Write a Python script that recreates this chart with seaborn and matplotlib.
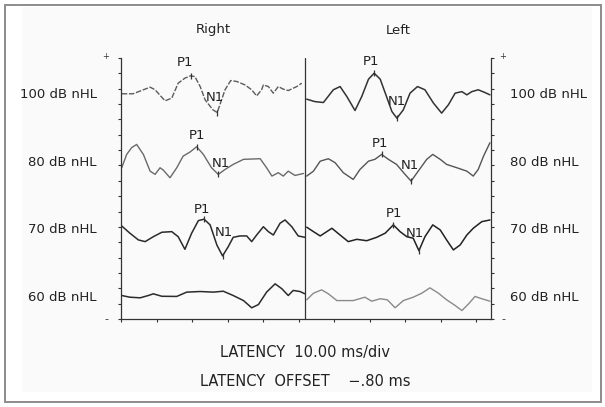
import numpy as np
import pandas as pd
import matplotlib
matplotlib.use('Agg')
import matplotlib.pyplot as plt
import matplotlib.transforms as mtransforms
from matplotlib.patches import Rectangle
import seaborn as sns

sns.set_theme(style='white')
plt.rcParams['font.family'] = ['DejaVu Sans']

# ==========================================
# data (latency in ms on the display axis, amplitude in divisions)
# ==========================================
levels = ['100 dB nHL', '80 dB nHL', '70 dB nHL', '60 dB nHL']
baselines = [14.6, 10.2, 5.8, 1.4]

# right ear (left half of the display)
lat_r100 = [0.2, 3.4, 8.2, 9.6, 12.4, 14.3, 16.1, 18.0, 19.6, 20.8, 22.3, 23.7, 25.9, 27.1, 29.3, 30.9,
            32.6, 34.9, 36.8, 38.2, 39.6, 40.1, 41.5, 42.9, 44.3, 45.7, 47.1, 49.5, 50.9]
amp_r100 = [0.07, 0.07, 0.50, 0.33, -0.39, -0.21, 0.76, 1.09, 1.24, 1.19, 0.54, -0.33, -0.98, -1.15, 0.33, 0.93,
            0.87, 0.65, 0.33, -0.07, 0.33, 0.65, 0.54, 0.11, 0.54, 0.37, 0.28, 0.54, 0.76]

lat_r80 = [0.2, 1.6, 3.0, 4.4, 6.3, 8.2, 9.6, 11.0, 11.9, 13.8, 15.7, 17.5, 19.4, 21.3, 23.2, 25.5, 27.4,
           29.3, 31.6, 34.5, 39.2, 41.0, 42.5, 44.3, 45.7, 47.1, 49.0, 51.4]
amp_r80 = [-0.35, 0.52, 0.96, 1.17, 0.52, -0.57, -0.78, -0.35, -0.50, -1.00, -0.35, 0.41, 0.67, 1.02, 0.52, -0.35, -0.78,
           -0.46, -0.13, 0.20, 0.24, -0.35, -0.89, -0.67, -0.89, -0.57, -0.85, -0.72]

lat_r70 = [0.2, 2.5, 4.9, 6.8, 9.1, 11.5, 14.3, 16.1, 18.0, 19.9, 21.8, 23.4, 25.1, 27.0, 28.6, 30.2, 31.6,
           33.5, 35.4, 36.8, 38.2, 40.1, 41.5, 42.9, 44.8, 46.2, 48.1, 49.9, 51.8]
amp_r70 = [0.26, -0.21, -0.65, -0.76, -0.44, -0.15, -0.11, -0.44, -1.26, -0.21, 0.61, 0.70, 0.33, -0.98, -1.69, -1.09, -0.48,
           -0.39, -0.39, -0.76, -0.33, 0.21, -0.11, -0.33, 0.44, 0.65, 0.21, -0.39, -0.48]

lat_r60 = [0.2, 2.5, 5.4, 7.7, 9.1, 11.5, 15.7, 18.5, 22.3, 26.0, 28.8, 31.6, 34.5, 36.8, 38.7, 41.0, 43.4,
           45.3, 47.1, 48.5, 50.4, 51.8]
amp_r60 = [0.13, 0.02, -0.02, 0.13, 0.24, 0.08, 0.07, 0.35, 0.39, 0.35, 0.41, 0.13, -0.20, -0.67, -0.46, 0.35, 0.89,
           0.57, 0.13, 0.46, 0.39, 0.24]

# left ear (right half of the display)
lat_l100 = [52.3, 54.6, 57.0, 59.8, 61.7, 63.6, 65.9, 67.8, 69.7, 71.3, 73.0, 74.6, 76.3, 77.7, 79.5, 81.4,
            83.5, 85.6, 88.0, 90.3, 92.2, 94.1, 96.0, 97.4, 98.8, 100.6, 102.5, 103.9]
amp_l100 = [-0.28, -0.44, -0.50, 0.33, 0.54, -0.11, -1.02, -0.11, 1.02, 1.41, 1.02, 0.00, -1.09, -1.52, -0.98, 0.11,
            0.54, 0.33, -0.54, -1.19, -0.65, 0.11, 0.21, 0.00, 0.21, 0.33, 0.15, 0.00]

lat_l80 = [52.3, 54.2, 56.1, 58.4, 60.3, 62.6, 65.4, 67.3, 69.7, 71.5, 73.4, 75.3, 77.6, 80.0, 81.7, 83.7,
           86.1, 87.8, 89.9, 91.7, 94.6, 97.4, 99.2, 100.6, 102.1, 103.9]
amp_l80 = [-0.89, -0.57, 0.08, 0.24, -0.02, -0.67, -1.11, -0.46, 0.08, 0.20, 0.52, 0.20, -0.13, -0.78, -1.22, -0.57,
           0.20, 0.52, 0.20, -0.13, -0.35, -0.57, -0.89, -0.46, 0.41, 1.28]

lat_l70 = [52.3, 54.2, 56.1, 59.4, 61.7, 64.0, 66.4, 69.2, 72.0, 74.4, 76.7, 78.6, 80.5, 82.3, 83.9, 85.6,
           87.8, 89.9, 91.7, 93.6, 95.5, 97.4, 99.2, 101.6, 103.9]
amp_l70 = [0.18, -0.11, -0.39, 0.11, -0.33, -0.76, -0.61, -0.70, -0.48, -0.21, 0.33, -0.11, -0.44, -0.54, -1.35, -0.44,
           0.33, 0.00, -0.65, -1.30, -0.98, -0.33, 0.11, 0.54, 0.65]

lat_l60 = [52.3, 54.2, 56.5, 58.4, 60.8, 65.4, 68.7, 70.6, 73.0, 75.0, 77.2, 79.5, 82.3, 84.7, 87.0, 89.4,
           91.7, 94.1, 96.0, 97.9, 99.7, 101.6, 103.9]
amp_l60 = [-0.15, 0.28, 0.50, 0.24, -0.20, -0.20, 0.02, -0.24, -0.08, -0.15, -0.67, -0.20, 0.02, 0.28, 0.63, 0.28,
           -0.15, -0.52, -0.85, -0.41, 0.07, -0.08, -0.24]

# P1 / N1 latencies marked on the 100, 80 and 70 dB traces
p1_right = [19.6, 21.3, 23.4]
n1_right = [27.1, 27.4, 28.6]
p1_left = [71.3, 73.4, 76.7]
n1_left = [77.7, 81.7, 83.9]

# ==========================================
# figure
# ==========================================
fig = plt.figure(figsize=(6.05, 4.07), dpi=100)
fig.patches.append(Rectangle((22 / 605, 15 / 407), 570 / 605, 385 / 407, transform=fig.transFigure,
                             facecolor='#fafafa', edgecolor='none', zorder=-2))
fig.patches.append(Rectangle((4.5 / 605, 5.5 / 407), 596 / 605, 397 / 407, transform=fig.transFigure,
                             facecolor='none', edgecolor='#8c8c8c', lw=1.4, zorder=-1))

ax = fig.add_axes([121 / 605, 1 - 319 / 407, 370 / 605, 261 / 407])
ax.set_facecolor('none')

traces = [
    (lat_r100, amp_r100, baselines[0], '#5c5c5c', 1.0, (0, (4, 1.2))),
    (lat_r80, amp_r80, baselines[1], '#6a6a6a', 1.0, '-'),
    (lat_r70, amp_r70, baselines[2], '#2b2b2b', 1.1, '-'),
    (lat_r60, amp_r60, baselines[3], '#2b2b2b', 1.1, '-'),
    (lat_l100, amp_l100, baselines[0], '#333333', 1.1, '-'),
    (lat_l80, amp_l80, baselines[1], '#555555', 1.0, '-'),
    (lat_l70, amp_l70, baselines[2], '#222222', 1.1, '-'),
    (lat_l60, amp_l60, baselines[3], '#8a8a8a', 1.0, '-'),
]
for lat, amp, base, col, lw, ls in traces:
    df = pd.DataFrame({'latency': lat, 'y': np.array(amp) + base})
    sns.lineplot(data=df, x='latency', y='y', ax=ax, color=col, lw=lw, linestyle=ls,
                 estimator=None, sort=False, legend=False)

# P1 / N1 marks and labels (label offsets in pixels)
p1_off = [(-6, 13), (0, 11), (-2, 10), (-3, 12), (-2, 11), (1, 11)]
n1_off = [(-2, 15), (3, 11), (1, 23), (0, 17), (-1, 16), (-4, 17)]
marked = [(lat_r100, amp_r100, 0), (lat_r80, amp_r80, 1), (lat_r70, amp_r70, 2),
          (lat_l100, amp_l100, 0), (lat_l80, amp_l80, 1), (lat_l70, amp_l70, 2)]
p1_all = p1_right + p1_left
n1_all = n1_right + n1_left
for i, (lat, amp, k) in enumerate(marked):
    for name, t, off in [('P1', p1_all[i], p1_off[i]), ('N1', n1_all[i], n1_off[i])]:
        yv = np.interp(t, lat, amp) + baselines[k]
        ax.plot([t], [yv], marker='|', ms=5, mew=0.9, color='#333333')
        ax.annotate(name, xy=(t, yv), xytext=(off[0] * 0.72, off[1] * 0.72), textcoords='offset points',
                    ha='center', va='center', fontsize=9.5, color='#222222')

# axes styling
ax.set_xlim(0, 104.2)
ax.set_ylim(0, 17)
ax.set_xticks(np.arange(0, 101, 10))
ax.set_yticks(np.arange(0, 18, 1))
ax.set_xlabel('')
ax.set_ylabel('')
ax.tick_params(axis='both', which='both', direction='out', length=2.5, width=0.8, color='#333333',
               labelbottom=False, labelleft=False, left=True, right=True, bottom=True, top=False)
for s in ['left', 'right', 'bottom']:
    ax.spines[s].set_color('#333333')
    ax.spines[s].set_linewidth(0.9)
ax.spines['top'].set_visible(False)
ax.axvline(51.8, color='#333333', lw=0.9)

# level labels on both sides
yl = mtransforms.blended_transform_factory(ax.transAxes, ax.transData)
for name, base in zip(levels, baselines):
    ax.annotate(name, xy=(0, base), xycoords=yl, xytext=(-24 * 0.72, 0), textcoords='offset points',
                ha='right', va='center', fontsize=9.5, color='#222222')
    ax.annotate(name, xy=(1, base), xycoords=yl, xytext=(19 * 0.72, 0), textcoords='offset points',
                ha='left', va='center', fontsize=9.5, color='#222222')

# polarity marks
for xa, dx in [(0, -15), (1, 12)]:
    ax.annotate('+', xy=(xa, 1), xycoords='axes fraction', xytext=(dx * 0.72, 1), textcoords='offset points',
                ha='center', va='center', fontsize=6, color='#333333')
    ax.annotate('-', xy=(xa, 0), xycoords='axes fraction', xytext=(dx * 0.72, 0), textcoords='offset points',
                ha='center', va='center', fontsize=8, color='#333333')

# ear titles
xt = mtransforms.blended_transform_factory(ax.transData, ax.transAxes)
for name, xc in [('Right', 25.9), ('Left', 78.0)]:
    ax.annotate(name, xy=(xc, 1), xycoords=xt, xytext=(0, 28 * 0.72), textcoords='offset points',
                ha='center', va='center', fontsize=9.5, color='#222222')

fig.text(305 / 605, 1 - 352 / 407, 'LATENCY  10.00 ms/div', ha='center', va='center',
         fontsize=10.5, color='#222222')
fig.text(305 / 605, 1 - 381 / 407, 'LATENCY  OFFSET    \u2212.80 ms', ha='center', va='center',
         fontsize=10.5, color='#222222')

fig.savefig('out.png', dpi=100)
